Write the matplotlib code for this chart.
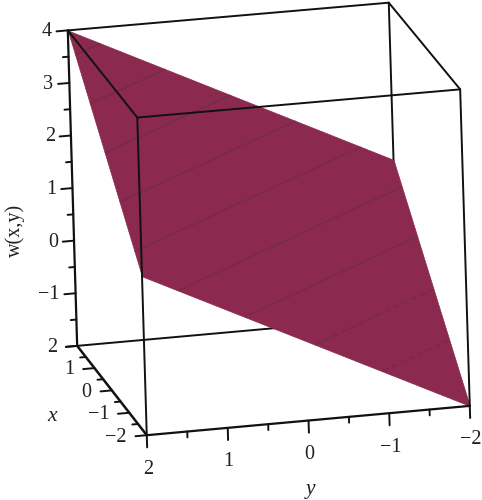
import numpy as np
import matplotlib
matplotlib.use('Agg')
import matplotlib.pyplot as plt

plt.rcParams['font.family'] = ['Liberation Serif', 'DejaVu Serif']

# data
x_vals = [-2, 2]
y_vals = [-2, 2]
w_vals = [[-2, 1], [1, 4]]
contour_levels = [-1.2, -0.58, 0.06, 0.67, 1.3, 1.9, 2.5, 3.1, 3.7]

x_ticks = [2, 1, 0, -1, -2]
y_ticks = [2, 1, 0, -1, -2]
w_ticks = [4, 3, 2, 1, 0, -1]
x_minor = [1.5, 0.5, -0.5, -1.5]
y_minor = [1.5, 0.5, -0.5, -1.5]
w_minor = [3.5, 2.5, 1.5, 0.5, -0.5, -1.5]

W_PX, H_PX = 482, 500

# where the box corners sit on the image, used to fit the camera
cube = [(2, 2, 4), (2, -2, 4), (-2, 2, 4), (-2, -2, 4),
        (2, 2, -2), (2, -2, -2), (-2, 2, -2), (-2, -2, -2)]
cube_px = [(68, 30), (389, 3), (137, 118), (460, 89),
           (77, 346), (398, 317), (147, 435), (470, 406)]


def fit_camera():
    rows = []
    for (X, Y, Z), (u, v) in zip(cube, cube_px):
        v = H_PX - v
        rows.append([X, Y, Z, 1, 0, 0, 0, 0, -u*X, -u*Y, -u*Z, -u])
        rows.append([0, 0, 0, 0, X, Y, Z, 1, -v*X, -v*Y, -v*Z, -v])
    P = np.linalg.svd(np.array(rows, dtype=float))[2][-1].reshape(3, 4)
    if P[2, 3] < 0:
        P = -P
    return P


P = fit_camera()

fig = plt.figure(figsize=(W_PX/100, H_PX/100), dpi=100)
ax = fig.add_axes([0, 0, 1, 1], projection='3d', computed_zorder=False)
ax.set_axis_off()
# ortho only so that mplot3d does not clip points, the matrix below does the real work
ax.set_proj_type('ortho')


def get_proj():
    to_data = ax.transData.inverted().get_matrix()
    Q = to_data @ P
    depth = np.array([-0.1, 0.1, 0.02, -0.6]) * Q[2, 3]
    return np.array([Q[0], Q[1], depth, Q[2]])


ax.get_proj = get_proj

X, Y = np.meshgrid(x_vals, y_vals, indexing='ij')
W = np.array(w_vals, dtype=float)

ax.plot_surface(X, Y, W, color='#8b2a4e', shade=False, linewidth=0.5,
                edgecolor='#8b2a4e', zorder=2)
ax.contour(X, Y, W, levels=contour_levels, colors='#5c2a45', linewidths=1.3,
           alpha=0.4, zorder=3)


def line(p, q, z=4, lw=1.4):
    ax.plot([p[0], q[0]], [p[1], q[1]], [p[2], q[2]], color='#111111', lw=lw,
            zorder=z, clip_on=False, solid_capstyle='round')


def label(x, y, z, s, **kw):
    # text goes on the figure at the projected spot
    h = P @ np.array([x, y, z, 1.0])
    fig.text(h[0]/h[2]/W_PX, h[1]/h[2]/H_PX, s, color='#222222', va='center', **kw)


# edges behind the surface
line((2, 2, -2), (2, -2, -2), z=1)
line((2, -2, -2), (2, -2, 4), z=1)
line((2, -2, -2), (-2, -2, -2), z=1)
# edges in front
line((2, 2, 4), (2, -2, 4))
line((2, -2, 4), (-2, -2, 4))
line((2, 2, 4), (-2, 2, 4))
line((-2, 2, 4), (-2, -2, 4))
line((-2, 2, 4), (-2, 2, -2))
line((-2, -2, 4), (-2, -2, -2))
line((2, 2, 4), (2, 2, -2), lw=1.6)
line((2, 2, -2), (-2, 2, -2), lw=1.8)
line((-2, 2, -2), (-2, -2, -2), lw=1.6)

# ticks
for t in w_ticks + [-2]:
    line((2, 2, t), (2, 2.14, t))
for t in w_minor:
    line((2, 2, t), (2, 2.07, t))
for t in x_ticks:
    line((t, 2, -2), (t, 2.14, -2))
for t in x_minor:
    line((t, 2, -2), (t, 2.07, -2))
for t in y_ticks:
    line((-2, t, -2), (-2, t, -2.23))
for t in y_minor:
    line((-2, t, -2), (-2, t, -2.11))

# tick labels
fs = 14.5
for t in w_ticks:
    label(2, 2.2, t, str(t).replace('-', '\u2212'), fontsize=fs, ha='right')
for t in x_ticks:
    label(t, 2.25, -2, str(t).replace('-', '\u2212'), fontsize=fs, ha='right')
for t in y_ticks:
    label(-2, t, -2.64, str(t).replace('-', '\u2212'), fontsize=fs, ha='center')

# axis labels
label(2, 2.72, 0.29, 'w(x,y)', fontsize=fs, rotation=90, ha='center')
label(0, 2.75, -2.4, 'x', fontsize=fs+1, style='italic', ha='center')
label(-2, 0, -3.3, 'y', fontsize=fs+1, style='italic', ha='center')

fig.savefig('out.png', dpi=100)
